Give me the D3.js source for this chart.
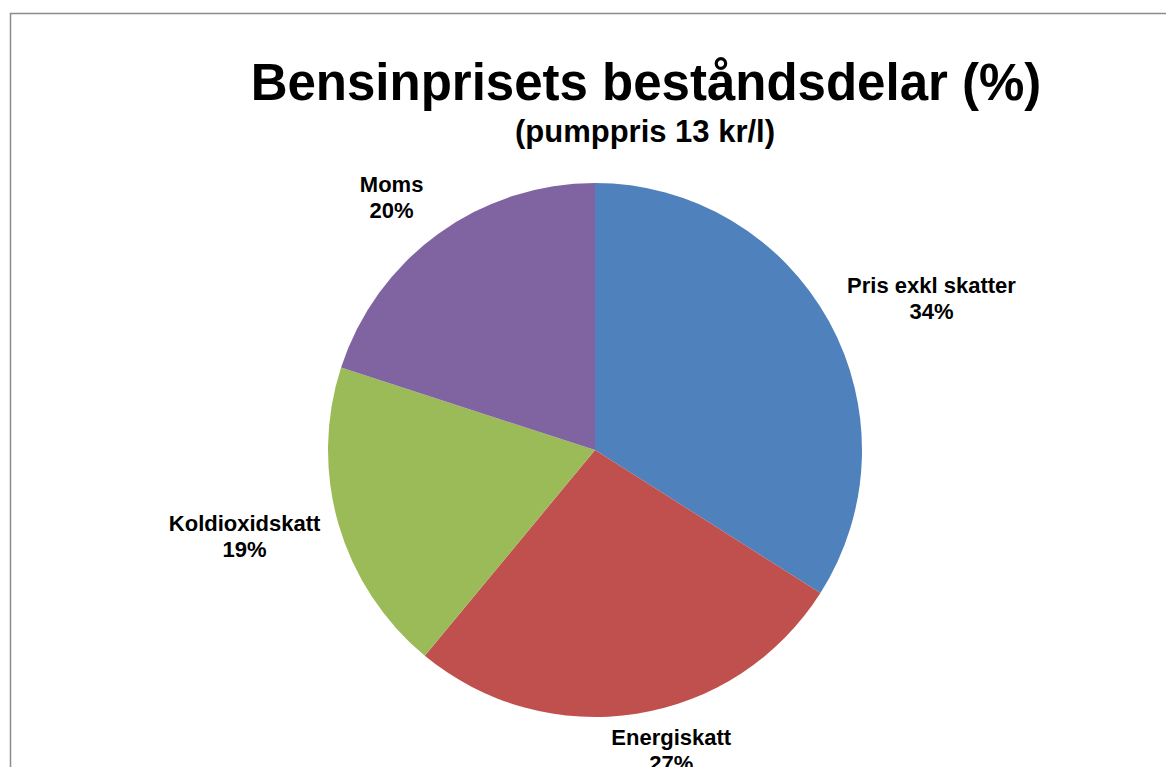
<!DOCTYPE html>
<html>
<head>
<meta charset="utf-8">
<script src="https://cdn.jsdelivr.net/npm/d3@7"></script>
<style>
  body { margin: 0; background: #fff; }
  text { font-family: "Liberation Sans", Arial, sans-serif; font-weight: bold; fill: #000; }
</style>
</head>
<body>
<div class="container"></div>
<script>
const categories = ['Pris exkl skatter', 'Energiskatt', 'Koldioxidskatt', 'Moms'];
const values = [34, 27, 19, 20];
const colors = ['#4F81BD', '#C0504D', '#9BBB59', '#8064A2'];

// small hand nudges so labels land where the original put them
const labelNudge = [[11, -2], [22, -8], [-2, -1], [-16, -1]];

const width = 1166;
const height = 767;
const cx = 595;
const cy = 450;
const radius = 267;

const svg = d3
  .select('.container')
  .append('svg')
  .attr('width', width)
  .attr('height', height);

// chart frame, runs off the right and bottom edge
svg
  .append('rect')
  .attr('x', 10.5)
  .attr('y', 13.5)
  .attr('width', width + 20)
  .attr('height', height + 20)
  .attr('fill', 'none')
  .attr('stroke', '#8c8c8c')
  .attr('stroke-width', 1.5);

svg
  .append('text')
  .attr('x', 646)
  .attr('y', 100)
  .attr('text-anchor', 'middle')
  .style('font-size', '51px')
  .text('Bensinprisets beståndsdelar (%)');

svg
  .append('text')
  .attr('x', 645)
  .attr('y', 142)
  .attr('text-anchor', 'middle')
  .style('font-size', '31px')
  .text('(pumppris 13 kr/l)');

const data = categories.map((c, i) => ({ name: c, value: values[i], color: colors[i], nudge: labelNudge[i] }));

const pie = d3.pie().value(d => d.value).sort(null);
const arc = d3.arc().innerRadius(0).outerRadius(radius);
const slices = pie(data);

const g = svg.append('g').attr('transform', `translate(${cx}, ${cy})`);

g.selectAll('path')
  .data(slices)
  .enter()
  .append('path')
  .attr('d', arc)
  .attr('fill', d => d.data.color);

// labels sit outside the pie, box pushed out along the mid angle
const labels = g
  .selectAll('.label')
  .data(slices)
  .enter()
  .append('g')
  .attr('class', 'label');

labels.each(function(d) {
  const el = d3.select(this);
  const t1 = el.append('text').attr('text-anchor', 'middle').style('font-size', '22px').attr('y', -5).text(d.data.name);
  el.append('text').attr('text-anchor', 'middle').style('font-size', '22px').attr('y', 21).text(`${d.data.value}%`);
  const w = t1.node().getComputedTextLength();
  const h = 50;
  const a = (d.startAngle + d.endAngle) / 2;
  const ux = Math.sin(a);
  const uy = -Math.cos(a);
  const r = radius + 20;
  const x = r * ux + ux * w / 2 + d.data.nudge[0];
  const y = r * uy + uy * h / 2 + d.data.nudge[1];
  el.attr('transform', `translate(${x}, ${y})`);
});
</script>
</body>
</html>
